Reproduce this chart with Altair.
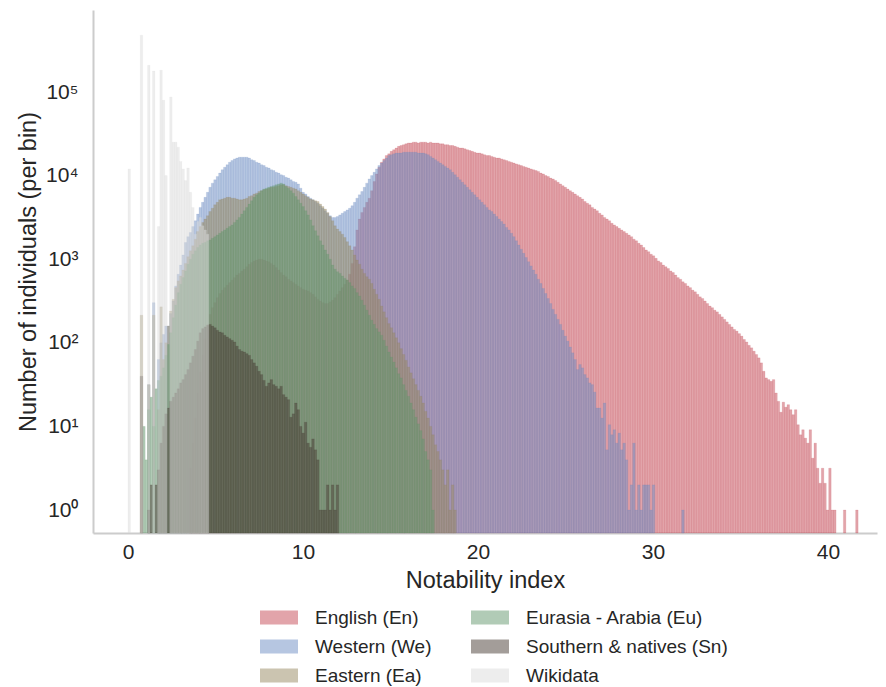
import altair as alt
import pandas as pd

# ---- data (log10 of count per bin) ----
BIN_WIDTH = 0.14
series_names = ["English (En)", "Western (We)", "Eastern (Ea)",
                "Eurasia - Arabia (Eu)", "Southern & natives (Sn)", "Wikidata"]
series_colors = ["#c54955", "#6d8dc3", "#978961", "#63976d", "#473b33", "#dbdbdb"]

# English (En): first bin index 25
english_start = 25
english_log10 = [
    0.50, 0.80, 1.10, 1.40, 1.65, 1.85, 2.05, 2.22, 2.34, 2.42, 2.48, 2.54, 2.59, 2.63, 2.66,
    2.69, 2.72, 2.75, 2.78, 2.81, 2.83, 2.86, 2.88, 2.91, 2.94, 2.96, 2.98, 2.99, 3.00, 3.00,
    2.99, 2.98, 2.97, 2.95, 2.93, 2.90, 2.87, 2.84, 2.81, 2.79, 2.76, 2.74, 2.72, 2.70, 2.68,
    2.66, 2.64, 2.63, 2.62, 2.60, 2.58, 2.55, 2.52, 2.50, 2.48, 2.47, 2.47, 2.49, 2.51, 2.54,
    2.58, 2.62, 2.66, 2.70, 2.75, 2.82, 2.95, 3.15, 3.35,
    3.48, 3.56, 3.62, 3.68, 3.73, 3.82, 3.93, 4.02, 4.10, 4.16, 4.20, 4.24, 4.26, 4.29, 4.31,
    4.33, 4.35, 4.36, 4.37, 4.38,
    4.39, 4.39, 4.40, 4.40, 4.39, 4.40, 4.40, 4.40, 4.39, 4.40, 4.39, 4.39, 4.39, 4.38, 4.38,
    4.37, 4.37, 4.36, 4.36, 4.35, 4.34, 4.33, 4.33, 4.32, 4.31, 4.30, 4.29, 4.28, 4.27, 4.27,
    4.26, 4.25, 4.24, 4.24, 4.23, 4.22, 4.21, 4.21, 4.20, 4.19, 4.18, 4.17, 4.16, 4.15, 4.14,
    4.13, 4.12, 4.11, 4.10, 4.09, 4.08, 4.07, 4.06, 4.05, 4.03, 4.02, 4.00, 3.99, 3.97, 3.96,
    3.94, 3.92, 3.90, 3.88, 3.86, 3.84, 3.82, 3.80, 3.78, 3.76, 3.74, 3.72, 3.69, 3.67, 3.65,
    3.62, 3.60, 3.58, 3.55, 3.53, 3.50, 3.48, 3.46, 3.43, 3.41, 3.39, 3.37, 3.35, 3.33, 3.31,
    3.29, 3.27, 3.24, 3.22, 3.19, 3.17, 3.14, 3.11, 3.09, 3.06, 3.04, 3.01, 2.98, 2.96, 2.93,
    2.91, 2.89, 2.86, 2.84, 2.81, 2.78, 2.76, 2.73, 2.71, 2.68, 2.66, 2.63, 2.61, 2.58, 2.55,
    2.53, 2.50, 2.47, 2.44, 2.42, 2.39, 2.37, 2.34, 2.31, 2.28, 2.25, 2.22, 2.19, 2.16, 2.14,
    2.11, 2.08, 2.04, 2.01, 1.97, 1.94, 1.90, 1.86, 1.82, 1.76,
    1.66, 1.58, 1.56, 1.54, 1.56, 1.40, 1.30, 1.17, 1.29, 1.23, 1.26, 1.20, 1.14, 1.20, 1.02,
    0.90, 0.96, 0.86, 0.80, 0.96, 0.62, 0.80, 0.50, 0.32, 0.50, 0.32, 0.00, 0.50, 0.00, 0.00,
    None, None, None, 0.00, None, None, None, None, 0.00,
]

# Western (We): first bin index 8
western_start = 8
western_log10 = [
    1.50, None, 2.48, None, 1.80, 2.00, 2.10, 2.20, 2.20, 2.35, 2.50, 2.68, 2.82, 2.93, 3.05,
    3.20, 3.27, 3.32, 3.39, 3.46, 3.54, 3.62, 3.68, 3.74, 3.80, 3.86, 3.91, 3.95, 3.99, 4.03,
    4.07, 4.10, 4.13, 4.16, 4.18, 4.20, 4.21, 4.22, 4.22, 4.22, 4.22, 4.21, 4.19, 4.18, 4.16,
    4.15, 4.13, 4.12, 4.10, 4.09, 4.07, 4.06, 4.04, 4.03, 4.01, 4.00, 3.98, 3.97, 3.95, 3.93,
    3.92, 3.90, 3.85, 3.80, 3.78, 3.75, 3.73, 3.71, 3.69, 3.67, 3.64, 3.61, 3.58, 3.55, 3.52,
    3.50, 3.50, 3.51, 3.53, 3.55, 3.57, 3.59, 3.61, 3.64, 3.68, 3.73, 3.77, 3.81, 3.86, 3.91,
    3.96, 4.00, 4.04, 4.08, 4.12, 4.15, 4.18, 4.21, 4.24, 4.25, 4.26, 4.27, 4.27, 4.27, 4.28,
    4.28, 4.28, 4.28, 4.28, 4.28, 4.27, 4.27, 4.27, 4.26, 4.25, 4.23, 4.21, 4.19, 4.17, 4.15,
    4.13, 4.11, 4.09, 4.07, 4.04, 4.01, 3.98, 3.95, 3.92, 3.89, 3.86, 3.83, 3.80, 3.77, 3.74,
    3.71, 3.68, 3.65, 3.62, 3.59, 3.57, 3.54, 3.51, 3.48, 3.45, 3.42, 3.38, 3.35, 3.31, 3.27,
    3.22, 3.17, 3.12, 3.07, 3.02, 2.97, 2.92, 2.87, 2.82, 2.76, 2.71, 2.65, 2.59, 2.53, 2.47,
    2.40, 2.34, 2.28, 2.22, 2.15, 2.08, 2.02, 1.95, 1.88, 1.80, 1.68, 1.74, 1.70, 1.62, 1.58,
    1.52, 1.50, 1.41, 1.22, 1.22, 1.10, 1.28, 0.72, 1.02, 0.90, 0.96, 0.80, 0.92, 0.72, 0.80,
    0.60, 0.00, 0.30, 0.80, 0.00, 0.30, 0.00, 0.30, 0.30, 0.30, 0.00, 0.30,
    None, None, None, None, None, None, None, None, None, None, None, 0.00,
]

# Eastern (Ea): first bin index 5
eastern_start = 5
eastern_log10 = [
    2.33, None, None, 1.50, None, 2.33, None, 1.20, 2.43, 1.80, 2.00, 2.20, 2.38, 2.52, 2.66,
    2.74, 2.80, 2.87, 2.95, 3.03, 3.10, 3.16, 3.24, 3.33, 3.39, 3.44, 3.48, 3.52, 3.57, 3.61,
    3.65, 3.68, 3.71, 3.72, 3.73, 3.74, 3.74, 3.73, 3.73, 3.72, 3.71, 3.71, 3.72, 3.73, 3.75,
    3.76, 3.78, 3.79, 3.81, 3.82, 3.83, 3.84, 3.85, 3.86, 3.86, 3.87, 3.88, 3.89, 3.89, 3.88,
    3.87, 3.86, 3.85, 3.84, 3.82, 3.80, 3.78, 3.76, 3.74, 3.72, 3.71, 3.70, 3.69, 3.66, 3.63,
    3.60, 3.56, 3.51, 3.46, 3.40, 3.36, 3.33, 3.30, 3.26, 3.21, 3.16, 3.11, 3.05, 2.99, 2.94,
    2.88, 2.83, 2.79, 2.76, 2.71, 2.64, 2.58, 2.52, 2.44, 2.37, 2.30, 2.23, 2.18, 2.12, 2.06,
    2.00, 1.93, 1.86, 1.79, 1.71, 1.64, 1.57, 1.50, 1.43, 1.36, 1.28, 1.18, 1.10, 1.00, 0.90,
    0.78, 0.70, 0.60, 0.48, 0.30, 0.48, 0.00, 0.30, 0.00,
]

# Eurasia - Arabia (Eu): first bin index 6
eurasia_start = 6
eurasia_log10 = [
    1.00, 0.60, 1.20, 1.35, 1.00, 1.45, 1.55, 1.60, 1.70, 1.85, 1.98, 2.12, 2.30, 2.45, 2.60,
    2.70, 2.78, 2.86, 2.94, 3.00, 3.06, 3.10, 3.14, 3.17, 3.19, 3.20, 3.22, 3.23, 3.25, 3.27,
    3.29, 3.31, 3.33, 3.35, 3.37, 3.39, 3.41, 3.44, 3.47, 3.50, 3.54, 3.58, 3.62, 3.66, 3.70,
    3.74, 3.77, 3.79, 3.82, 3.84, 3.85, 3.86, 3.87, 3.88, 3.89, 3.90, 3.91, 3.90, 3.87, 3.85,
    3.82, 3.79, 3.75, 3.71, 3.67, 3.63, 3.58, 3.53, 3.47, 3.40, 3.34, 3.28, 3.22, 3.17, 3.11,
    3.06, 3.00, 2.93, 2.88, 2.85, 2.83, 2.80, 2.77, 2.75, 2.72, 2.68, 2.65, 2.60, 2.56, 2.51,
    2.45, 2.39, 2.33, 2.27, 2.22, 2.17, 2.13, 2.09, 2.03, 1.96, 1.89, 1.83, 1.77, 1.70, 1.63,
    1.58, 1.50, 1.43, 1.36, 1.28, 1.20, 1.11, 1.03, 0.95, 0.85, 0.70, 0.60, 0.48, 0.00,
]

# Southern & natives (Sn): first bin index 5
southern_start = 5
southern_log10 = [
    1.60, None, None, 0.00, 0.30, None, 0.30, 0.48, 0.80, 1.00, 1.15, 1.22, 1.30, 1.35, 1.40,
    1.45, 1.52, 1.56, 1.62, 1.68, 1.76, 1.84, 1.92, 2.02, 2.12, 2.17, 2.19, 2.21, 2.22, 2.20,
    2.18, 2.15, 2.13, 2.12, 2.09, 2.07, 2.05, 2.03, 2.01, 1.96, 1.92, 1.90, 1.89, 1.87, 1.85,
    1.80, 1.76, 1.72, 1.66, 1.62, 1.55, 1.48, 1.52, 1.56, 1.50, 1.48, 1.45, 1.48, 1.38, 1.35,
    1.32, 1.11, 1.15, 1.28, 1.20, 1.00, 0.92, 1.05, 0.80, 0.75, 0.85, 0.72, 0.60, 0.00, 0.00,
    0.00, 0.30, 0.00, 0.30, 0.00, 0.30,
]

# Wikidata: first bin index 0
wikidata_start = 0
wikidata_log10 = [
    4.08, None, None, None, None, 5.68, None, None, 5.32, None, 5.25, None, 3.39, 5.26, 4.90,
    4.00, None, 4.94, 4.40, 4.40, 4.34, 4.17, 4.08, 3.94, 4.09, 3.80, 3.62, 3.30, 3.45, 3.50,
    3.40, 3.35, 3.30,
]

series_data = [
    (english_start, english_log10),
    (western_start, western_log10),
    (eastern_start, eastern_log10),
    (eurasia_start, eurasia_log10),
    (southern_start, southern_log10),
    (wikidata_start, wikidata_log10),
]

y_ticks = [1, 10, 100, 1000, 10000, 100000]
x_ticks = [0, 10, 20, 30, 40]

# ---- build long table (drawing order = order of series_names) ----
rows = []
for name, (start, vals) in zip(series_names, series_data):
    for k, v in enumerate(vals):
        if v is None:
            continue
        i = start + k
        rows.append({"series": name, "x0": i * BIN_WIDTH, "x1": (i + 1) * BIN_WIDTH,
                     "count": 10 ** v})
df = pd.DataFrame(rows)

sup = {1: "10⁰", 10: "10¹", 100: "10²", 1000: "10³", 10000: "10⁴", 100000: "10⁵"}
label_expr = " : ".join(f"datum.value == {k} ? '{v}'" for k, v in sup.items()) + " : ''"

FONT = "Liberation Sans"
TXT = "#262626"
W, H = 784, 523

color_scale = alt.Scale(domain=series_names, range=series_colors)

chart = alt.Chart(df).mark_bar(fillOpacity=0.5, strokeOpacity=0.3, strokeWidth=0.5).encode(
    x=alt.X("x0:Q",
            scale=alt.Scale(domain=[-2.0, 42.8], nice=False, zero=False),
            axis=alt.Axis(values=x_ticks, title="Notability index", format="d")),
    x2="x1:Q",
    y=alt.Y("count:Q", stack=None,
            scale=alt.Scale(type="log", domain=[0.531, 957000], nice=False),
            axis=alt.Axis(values=y_ticks, labelExpr=label_expr,
                          title="Number of individuals (per bin)")),
    y2=alt.value(H),
    stroke=alt.Stroke("series:N", scale=color_scale, legend=None),
    color=alt.Color("series:N", scale=color_scale,
                    legend=alt.Legend(orient="none", legendX=167, legendY=588.5,
                                      columns=2, columnPadding=39, rowPadding=0,
                                      symbolType="M-1,-0.37H1V0.37H-1Z", symbolSize=1444,
                                      symbolOpacity=0.5, symbolStrokeWidth=0,
                                      labelFontSize=19, labelOffset=17, labelColor=TXT,
                                      labelFont=FONT, labelLimit=0, title=None, padding=0)),
).properties(
    width=W, height=H,
    padding={"left": 85, "top": 2, "right": 1, "bottom": 154},
    autosize=alt.AutoSizeParams(type="none"),
).configure_view(stroke=None).configure_axis(
    domainColor="#cccccc", domainWidth=2, ticks=False, grid=False,
    labelFont=FONT, labelFontSize=21, labelColor=TXT,
    titleFont=FONT, titleFontSize=23.5, titleFontWeight="normal", titleColor=TXT,
).configure_axisX(labelPadding=8, titlePadding=6).configure_axisY(labelPadding=15, titlePadding=5)

chart.save("out.html", embed_options={"renderer": "svg", "actions": False})
